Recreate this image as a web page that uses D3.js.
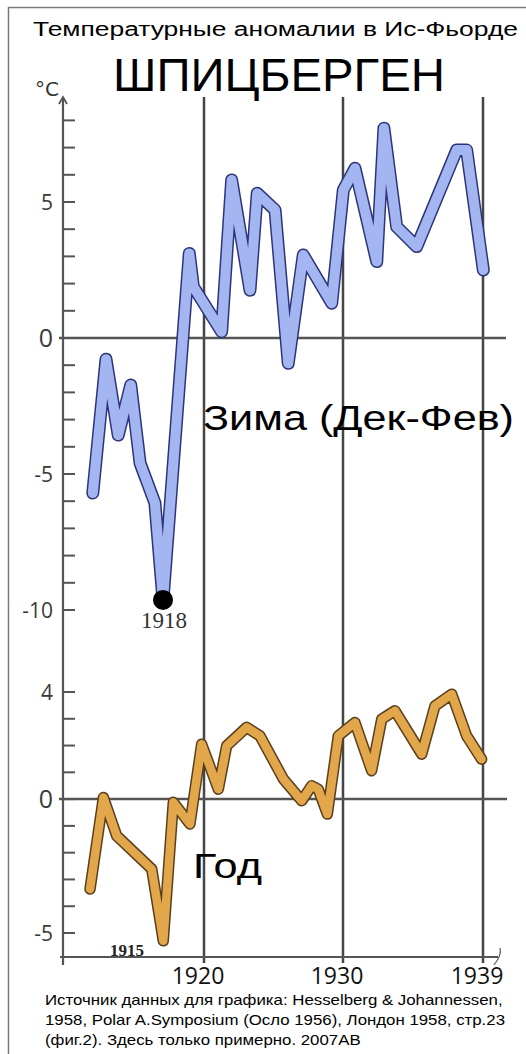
<!DOCTYPE html>
<html>
<head>
<meta charset="utf-8">
<script src="https://cdnjs.cloudflare.com/ajax/libs/d3/7.8.5/d3.min.js"></script>
<style>
    html, body { margin: 0; padding: 0; background: #fff; }
    svg { display: block; }
</style>
</head>
<body>
<div id="chart"></div>
<script>
// Winter (Dec-Feb) anomalies (years are approximate, hand drawn)
const winterYears = [1912.0, 1912.95, 1913.83, 1914.73, 1915.4, 1916.47, 1917.05, 1918.94, 1919.23,
    1921.27, 1921.99, 1923.31, 1923.83, 1925.11, 1926.06, 1927.14, 1929.19, 1930.02, 1930.77,
    1932.17, 1932.63, 1933.45, 1934.74, 1937.31, 1937.95, 1939.02];
const winterTemps = [-5.7, -0.78, -3.57, -1.73, -4.6, -6.07, -9.63, 3.11, 1.89,
    0.23, 5.81, 1.76, 5.32, 4.71, -0.93, 3.05, 1.28, 5.44, 6.24,
    2.81, 7.71, 4.09, 3.36, 6.91, 6.91, 2.5];

// Annual anomalies
const yearYears = [1911.8, 1912.76, 1913.72, 1916.24, 1917.07, 1917.79, 1918.99, 1919.83, 1921.03,
    1921.63, 1923.07, 1924.03, 1925.71, 1927.03, 1927.75, 1928.22, 1928.87, 1929.66, 1930.77,
    1931.84, 1932.49, 1933.34, 1935.06, 1935.91, 1936.99, 1937.95, 1938.91];
const yearTemps = [-3.36, 0.06, -1.37, -2.61, -5.29, -0.12, -0.93, 2.05, 0.37,
    1.99, 2.68, 2.36, 0.75, -0.06, 0.5, 0.37, -0.56, 2.36, 2.86,
    1.06, 2.99, 3.3, 1.68, 3.48, 3.92, 2.36, 1.49];

const gridYears = [1920, 1930, 1939];
const winterTicks = d3.range(-10, 9);
const winterLabels = [5, 0, -5, -10];
const yearTicks = d3.range(-5, 5);
const yearLabels = [4, 0, -5];

const titleText = "Температурные аномалии в Ис-Фьорде";
const placeText = "ШПИЦБЕРГЕН";
const sourceLines = [
    "Источник данных для графика: Hesselberg & Johannessen,",
    "1958, Polar A.Symposium (Осло 1956), Лондон 1958, стр.23",
    "(фиг.2). Здесь только примерно. 2007AB"
];

const width = 526, height = 1054;
const axisX = 63, axisBottom = 957;

let svg = d3.select("#chart")
    .append("svg")
    .attr("width", width)
    .attr("height", height);

// x scale: the drawing is not quite uniform, so it is piecewise through the grid years
let x = d3.scaleLinear()
    .domain(gridYears)
    .range([204, 343, 483]);

let yWinter = d3.scaleLinear().domain([-5, 5]).range([474, 202]);
let yYear = d3.scaleLinear().domain([-5, 4]).range([933, 692]);

// frame
svg.append("path")
    .attr("d", `M8.5,${height} V7.5 H${width}`)
    .attr("fill", "none")
    .attr("stroke", "#7a7a7a")
    .attr("stroke-width", 1.5);

// titles
svg.append("text")
    .attr("x", 33).attr("y", 36)
    .attr("textLength", 485).attr("lengthAdjust", "spacingAndGlyphs")
    .style("font-family", "Liberation Sans, Arial, sans-serif")
    .style("font-size", "19.5px")
    .text(titleText);

svg.append("text")
    .attr("x", 113).attr("y", 91)
    .attr("textLength", 332).attr("lengthAdjust", "spacingAndGlyphs")
    .style("font-family", "Liberation Sans, Arial, sans-serif")
    .style("font-size", "47px")
    .text(placeText);

// vertical grid lines
svg.selectAll(".vgrid")
    .data(gridYears)
    .enter()
    .append("line")
    .attr("class", "vgrid")
    .attr("x1", d => x(d)).attr("x2", d => x(d))
    .attr("y1", 97).attr("y2", 963)
    .attr("stroke", "#464646")
    .attr("stroke-width", 2.5);

// zero lines
svg.append("line")
    .attr("x1", 59).attr("x2", 506)
    .attr("y1", yWinter(0)).attr("y2", yWinter(0))
    .attr("stroke", "#555").attr("stroke-width", 2.5);
svg.append("line")
    .attr("x1", 59).attr("x2", 507)
    .attr("y1", yYear(0)).attr("y2", yYear(0))
    .attr("stroke", "#555").attr("stroke-width", 2.5);

// y axis with arrow
svg.append("line")
    .attr("x1", axisX).attr("x2", axisX)
    .attr("y1", 98).attr("y2", 965)
    .attr("stroke", "#555").attr("stroke-width", 2.2);
svg.append("path")
    .attr("d", `M${axisX - 4},104 L${axisX},97 L${axisX + 4},104`)
    .attr("fill", "none").attr("stroke", "#555").attr("stroke-width", 1.8);

svg.append("text")
    .attr("x", 35).attr("y", 96)
    .style("font-family", "DejaVu Sans, sans-serif")
    .style("font-size", "20px")
    .style("fill", "#333")
    .text("°C");

// x axis
svg.append("line")
    .attr("x1", 60).attr("x2", 498)
    .attr("y1", axisBottom).attr("y2", axisBottom)
    .attr("stroke", "#555").attr("stroke-width", 2.2);
svg.append("path")
    .attr("d", `M494,${axisBottom + 8} Q502,${axisBottom - 2} 500,${axisBottom - 9}`)
    .attr("fill", "none").attr("stroke", "#555").attr("stroke-width", 1.2);

// ticks
svg.selectAll(".wtick")
    .data(winterTicks)
    .enter()
    .append("line")
    .attr("class", "wtick")
    .attr("x1", axisX).attr("x2", axisX + 12)
    .attr("y1", d => yWinter(d)).attr("y2", d => yWinter(d))
    .attr("stroke", "#555").attr("stroke-width", 2);
svg.selectAll(".ytick")
    .data(yearTicks)
    .enter()
    .append("line")
    .attr("class", "ytick")
    .attr("x1", axisX).attr("x2", axisX + 12)
    .attr("y1", d => yYear(d)).attr("y2", d => yYear(d))
    .attr("stroke", "#555").attr("stroke-width", 2);

let labelFont = "Open Sans, DejaVu Sans, sans-serif";
svg.selectAll(".wlabel")
    .data(winterLabels)
    .enter()
    .append("text")
    .attr("class", "wlabel")
    .attr("x", 53)
    .attr("y", d => yWinter(d))
    .attr("dy", "0.36em")
    .attr("text-anchor", "end")
    .style("font-family", labelFont)
    .style("font-size", d => d === 0 ? "25px" : "21px")
    .style("fill", "#3a3a3a")
    .text(d => d);
svg.selectAll(".ylabel")
    .data(yearLabels)
    .enter()
    .append("text")
    .attr("class", "ylabel")
    .attr("x", 53)
    .attr("y", d => yYear(d))
    .attr("dy", "0.36em")
    .attr("text-anchor", "end")
    .style("font-family", labelFont)
    .style("font-size", d => d === 0 ? "25px" : "21px")
    .style("fill", "#3a3a3a")
    .text(d => d);

svg.selectAll(".xlabel")
    .data(gridYears)
    .enter()
    .append("text")
    .attr("class", "xlabel")
    .attr("x", d => x(d) - 6)
    .attr("y", 984)
    .attr("text-anchor", "middle")
    .style("font-family", labelFont)
    .style("font-size", "23px")
    .style("fill", "#111")
    .text(d => d);

// data lines: dark outline under a lighter band
function drawBand(xs, ys, yScale, dark, light, outer, inner) {
    let pts = xs.map((d, i) => [d, ys[i]]);
    let line = d3.line()
        .x(d => x(d[0]))
        .y(d => yScale(d[1]));
    svg.append("path")
        .datum(pts)
        .attr("d", line)
        .attr("fill", "none")
        .attr("stroke", dark)
        .attr("stroke-width", outer)
        .attr("stroke-linejoin", "round")
        .attr("stroke-linecap", "round");
    svg.append("path")
        .datum(pts)
        .attr("d", line)
        .attr("fill", "none")
        .attr("stroke", light)
        .attr("stroke-width", inner)
        .attr("stroke-linejoin", "round")
        .attr("stroke-linecap", "round");
}

drawBand(winterYears, winterTemps, yWinter, "#2d3478", "#a3b6f2", 13, 10);
drawBand(yearYears, yearTemps, yYear, "#5b3f1c", "#e2a64b", 11.5, 8.5);

// coldest winter marker
let minIdx = d3.minIndex(winterTemps);
svg.append("circle")
    .attr("cx", x(winterYears[minIdx]))
    .attr("cy", yWinter(winterTemps[minIdx]))
    .attr("r", 10)
    .attr("fill", "#000");
svg.append("text")
    .attr("x", x(winterYears[minIdx]) + 1)
    .attr("y", 628)
    .attr("text-anchor", "middle")
    .style("font-family", "Liberation Serif, serif")
    .style("font-size", "23px")
    .style("fill", "#333")
    .text("1918");

svg.append("text")
    .attr("x", 127).attr("y", 956)
    .attr("text-anchor", "middle")
    .style("font-family", "Liberation Serif, serif")
    .style("font-weight", "bold")
    .style("font-size", "17px")
    .style("fill", "#222")
    .text("1915");

// series names
svg.append("text")
    .attr("x", 203).attr("y", 430)
    .attr("textLength", 311).attr("lengthAdjust", "spacingAndGlyphs")
    .style("font-family", "Liberation Sans, Arial, sans-serif")
    .style("font-size", "35px")
    .text("Зима (Дек-Фев)");
svg.append("text")
    .attr("x", 193).attr("y", 878)
    .attr("textLength", 69).attr("lengthAdjust", "spacingAndGlyphs")
    .style("font-family", "Liberation Sans, Arial, sans-serif")
    .style("font-size", "35px")
    .text("Год");

// source note, stretched evenly so the second line fills the width
let notes = svg.selectAll(".note")
    .data(sourceLines)
    .enter()
    .append("text")
    .attr("class", "note")
    .attr("x", 45)
    .attr("y", (d, i) => 1005 + i * 20)
    .style("font-family", "Liberation Sans, Arial, sans-serif")
    .style("font-size", "14.5px")
    .text(d => d);
let k = 460 / notes.nodes()[1].getComputedTextLength();
notes.each(function () {
    let w = this.getComputedTextLength();
    d3.select(this).attr("textLength", w * k).attr("lengthAdjust", "spacingAndGlyphs");
});
</script>
</body>
</html>
